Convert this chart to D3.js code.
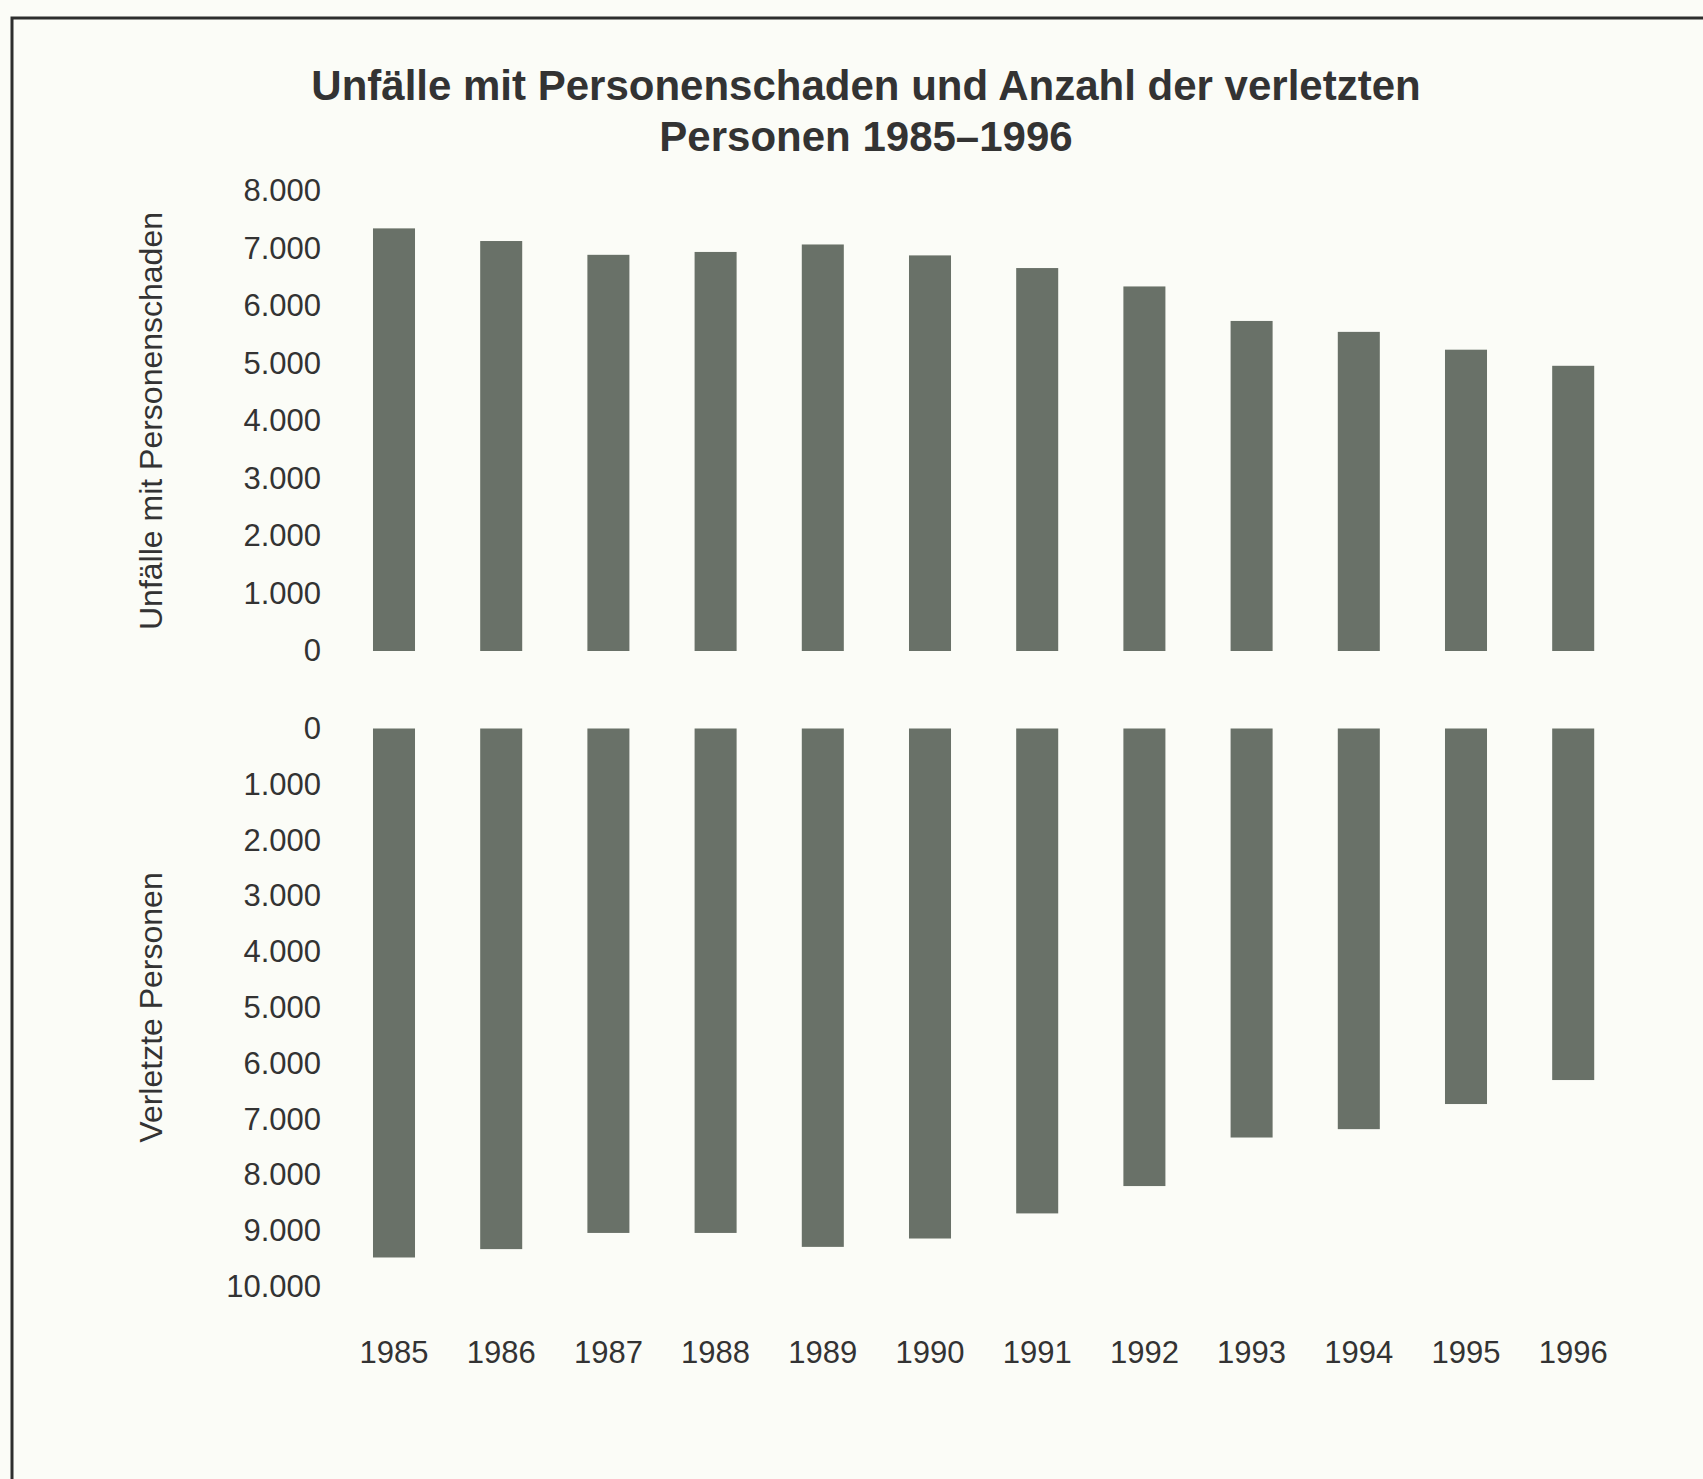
<!DOCTYPE html>
<html lang="de">
<head>
	<meta charset="UTF-8">
	<title>Unfälle mit Personenschaden 1985-1996</title>
	<style>
		body { margin: 0; background: #fbfcf7; }
		text { font-family: "Liberation Sans", Arial, Helvetica, sans-serif; fill: #333; }
	</style>
</head>
<body>
<script src="https://d3js.org/d3.v7.min.js"></script>
<script>
	// data
	let years = ['1985', '1986', '1987', '1988', '1989', '1990', '1991', '1992', '1993', '1994', '1995', '1996'];
	let unfaelle = [7350, 7130, 6890, 6940, 7070, 6880, 6660, 6340, 5740, 5550, 5240, 4960];
	let verletzte = [9480, 9330, 9040, 9040, 9290, 9140, 8690, 8200, 7330, 7180, 6730, 6300];
	let topTicks = [0, 1000, 2000, 3000, 4000, 5000, 6000, 7000, 8000];
	let bottomTicks = [0, 1000, 2000, 3000, 4000, 5000, 6000, 7000, 8000, 9000, 10000];
	let titleLines = ['Unfälle mit Personenschaden und Anzahl der verletzten', 'Personen 1985–1996'];

	let width = 1703;
	let height = 1479;
	let barColor = '#697168';

	let de = d3.formatLocale({ decimal: ',', thousands: '.', grouping: [3], currency: ['', ' €'] });
	let fmt = de.format(',d');

	let svg = d3.select('body')
			.append('svg')
			.attr('width', width)
			.attr('height', height);

	// frame (only top and left edges are on the page)
	svg.append('path')
			.attr('d', 'M12,' + height + 'V18H' + width)
			.attr('fill', 'none')
			.attr('stroke', '#2e2e2e')
			.attr('stroke-width', 3);

	// title
	svg.append('g')
			.selectAll('text')
			.data(titleLines)
			.enter()
			.append('text')
			.attr('x', 866)
			.attr('y', function(d, i){ return 100 + i * 51; })
			.attr('text-anchor', 'middle')
			.attr('font-size', '42px')
			.attr('font-weight', 'bold')
			.attr('fill', '#222')
			.text(function(d){ return d; });

	let xScale = d3.scaleBand()
			.domain(years)
			.range([340.4, 1626.8])
			.paddingInner(0.608)
			.paddingOuter(0.304);

	let yTop = d3.scaleLinear()
			.domain([0, 8000])
			.range([651, 191]);

	let yBottom = d3.scaleLinear()
			.domain([0, 10000])
			.range([728.5, 1286.5]);

	let axisX = 330;

	function styleAxis(g) {
		g.select('.domain').remove();
		g.selectAll('text')
				.attr('font-size', '31px')
				.attr('fill', '#333');
	}

	svg.append('g')
			.attr('transform', 'translate(' + axisX + ',0)')
			.call(d3.axisLeft(yTop).tickValues(topTicks).tickFormat(fmt).tickSize(0).tickPadding(9))
			.call(styleAxis);

	svg.append('g')
			.attr('transform', 'translate(' + axisX + ',0)')
			.call(d3.axisLeft(yBottom).tickValues(bottomTicks).tickFormat(fmt).tickSize(0).tickPadding(9))
			.call(styleAxis);

	svg.append('g')
			.attr('transform', 'translate(0,' + yBottom.range()[1] + ')')
			.call(d3.axisBottom(xScale).tickSize(0).tickPadding(54))
			.call(styleAxis);

	// upper bars
	svg.append('g')
			.selectAll('rect')
			.data(unfaelle)
			.enter()
			.append('rect')
			.attr('x', function(d, i){ return xScale(years[i]); })
			.attr('width', xScale.bandwidth())
			.attr('y', function(d){ return yTop(d); })
			.attr('height', function(d){ return yTop(0) - yTop(d); })
			.attr('fill', barColor);

	// lower bars hang down from zero
	svg.append('g')
			.selectAll('rect')
			.data(verletzte)
			.enter()
			.append('rect')
			.attr('x', function(d, i){ return xScale(years[i]); })
			.attr('width', xScale.bandwidth())
			.attr('y', yBottom(0))
			.attr('height', function(d){ return yBottom(d) - yBottom(0); })
			.attr('fill', barColor);

	// axis titles
	let axisTitles = [
		{ text: 'Unfälle mit Personenschaden', y: (yTop.range()[0] + yTop.range()[1]) / 2 },
		{ text: 'Verletzte Personen', y: (yBottom.range()[0] + yBottom.range()[1]) / 2 }
	];
	svg.append('g')
			.selectAll('text')
			.data(axisTitles)
			.enter()
			.append('text')
			.attr('transform', function(d){ return 'translate(162,' + d.y + ') rotate(-90)'; })
			.attr('text-anchor', 'middle')
			.attr('font-size', '32px')
			.text(function(d){ return d.text; });
</script>
</body>
</html>
